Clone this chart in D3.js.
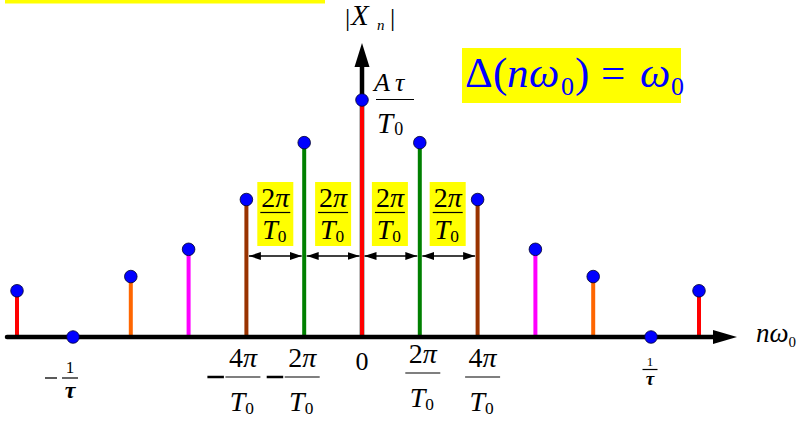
<!DOCTYPE html>
<html>
<head>
<meta charset="utf-8">
<script src="https://cdn.jsdelivr.net/npm/d3@7"></script>
<style>
  html, body { margin: 0; padding: 0; background: #fff; }
  svg { display: block; }
</style>
</head>
<body>
<svg id="chart" width="798" height="426" font-family="'Liberation Serif', 'Times New Roman', serif"></svg>
<script>
// Harmonic index n and normalised line-spectrum magnitude |X_n| (peak = Aτ/T0)
const harmonics  = [-6, -5, -4, -3, -2, -1, 0, 1, 2, 3, 4, 5, 6];
const magnitudes = [0.195, 0, 0.255, 0.37, 0.58, 0.82, 1, 0.82, 0.58, 0.37, 0.255, 0, 0.195];

// Tick labels on the nω0 axis
const tickHarmonics = [-5, -2, -1, 0, 1, 2, 5];
const tickSigns     = ["−", "−", "−", "", "", "", ""];
const tickNumers    = ["1", "4π", "2π", "0", "2π", "4π", "1"];
const tickDenoms    = ["τ", "T0", "T0", "", "T0", "T0", "τ"];

// Spacing annotations between neighbouring lines (from n to n+1)
const spacingStarts = [-2, -1, 0, 1];

// Stem colour by |n|
const stemColor = { 0: "#ff0000", 1: "#008000", 2: "#993300", 3: "#ff00ff", 4: "#ff6600", 5: "#ff0000", 6: "#ff0000" };

const SERIF = "'Liberation Serif', 'Times New Roman', serif";
const svg = d3.select("#chart");
// Outer harmonics sit a little closer to their neighbours than the inner ones
const x = d3.scaleLinear().domain([-6, -5, 5, 6]).range([17, 73, 651, 699]);
const y = d3.scaleLinear().domain([0, 1]).range([337, 100]);
const baseY = y(0);
const x0 = x(0);

const data = harmonics.map((n, i) => ({ n, v: magnitudes[i] }));

function txt(sel) {
  return sel.append("text").attr("font-family", SERIF);
}

// Yellow strip at the top-left
svg.append("rect").attr("x", 5).attr("y", 0).attr("width", 320).attr("height", 3.5).attr("fill", "#ffff00");

// Vertical axis with arrow
svg.append("line")
  .attr("x1", x0).attr("x2", x0).attr("y1", baseY).attr("y2", 65)
  .attr("stroke", "#000").attr("stroke-width", 4.5);
svg.append("path")
  .attr("d", `M${x0},43 L${x0 - 7.5},67 L${x0 + 7.5},67 Z`)
  .attr("fill", "#000");

// Stems
svg.append("g").selectAll("line")
  .data(data.filter(d => d.v > 0))
  .join("line")
  .attr("x1", d => x(d.n)).attr("x2", d => x(d.n))
  .attr("y1", baseY - 2).attr("y2", d => y(d.v))
  .attr("stroke", d => stemColor[Math.abs(d.n)])
  .attr("stroke-width", 4)
  .attr("stroke-linecap", "round");

// Horizontal axis with arrow
svg.append("line")
  .attr("x1", 7).attr("x2", 716).attr("y1", baseY).attr("y2", baseY)
  .attr("stroke", "#000").attr("stroke-width", 4.5).attr("stroke-linecap", "round");
svg.append("path")
  .attr("d", `M737,${baseY} L713,${baseY - 7} L713,${baseY + 7} Z`)
  .attr("fill", "#000");

// Stem heads
svg.append("g").selectAll("circle")
  .data(data)
  .join("circle")
  .attr("cx", d => x(d.n)).attr("cy", d => y(d.v))
  .attr("r", 6.3)
  .attr("fill", "#0000ff")
  .attr("stroke", "#00002a").attr("stroke-width", 0.8);

// Arrowhead markers for spacing annotations
const defs = svg.append("defs");
defs.append("marker").attr("id", "arrEnd")
  .attr("viewBox", "0 0 12 8").attr("refX", 12).attr("refY", 4)
  .attr("markerWidth", 12).attr("markerHeight", 8).attr("markerUnits", "userSpaceOnUse")
  .attr("orient", "auto")
  .append("path").attr("d", "M0,0 L12,4 L0,8 Z").attr("fill", "#000");
defs.append("marker").attr("id", "arrStart")
  .attr("viewBox", "0 0 12 8").attr("refX", 0).attr("refY", 4)
  .attr("markerWidth", 12).attr("markerHeight", 8).attr("markerUnits", "userSpaceOnUse")
  .attr("orient", "auto")
  .append("path").attr("d", "M12,0 L0,4 L12,8 Z").attr("fill", "#000");

// Helper: stacked fraction centred at cx
function fraction(g, cx, num, den, opts) {
  const { numY, lineY, denY, size, half, denSize } = opts;
  if (num === "1") {
    txt(g).attr("x", cx).attr("y", numY).attr("text-anchor", "middle")
      .attr("font-size", size).text("1");
  } else {
    const t = txt(g).attr("x", cx).attr("y", numY).attr("text-anchor", "middle").attr("font-size", size);
    t.append("tspan").text(num[0]);
    t.append("tspan").attr("font-style", "italic").text(num.slice(1));
  }
  g.append("line").attr("x1", cx - half).attr("x2", cx + half).attr("y1", lineY).attr("y2", lineY)
    .attr("stroke", "#000").attr("stroke-width", 1.2);
  if (den === "τ") {
    txt(g).attr("x", cx).attr("y", denY).attr("text-anchor", "middle")
      .attr("font-size", denSize || size).attr("font-style", "italic").attr("font-weight", "bold").text("τ");
  } else {
    const t = txt(g).attr("x", cx - 1).attr("y", denY).attr("text-anchor", "middle");
    t.append("tspan").attr("font-style", "italic").attr("font-size", size).text("T");
    t.append("tspan").attr("font-size", size * 0.62).attr("dy", size * 0.1).text("0");
  }
}

// Spacing annotations: yellow 2π/T0 boxes and double arrows
const spacing = svg.append("g");
spacingStarts.forEach(n => {
  const xa = x(n), xb = x(n + 1), cx = (xa + xb) / 2 + (n < 0 ? 0 : -1);
  spacing.append("rect").attr("x", cx - 18).attr("y", 182).attr("width", 36).attr("height", 64).attr("fill", "#ffff00");
  fraction(spacing, cx, "2π", "T0", { numY: 207, lineY: 212.5, denY: 239, size: 28, half: 15 });
  spacing.append("line")
    .attr("x1", xa + 2.5).attr("x2", xb - 2.5).attr("y1", 256).attr("y2", 256)
    .attr("stroke", "#000").attr("stroke-width", 1.5)
    .attr("marker-start", "url(#arrStart)").attr("marker-end", "url(#arrEnd)");
});

// Tick labels below the axis
const ticks = svg.append("g");
tickHarmonics.forEach((n, i) => {
  const cx = x(n);
  const sign = tickSigns[i], num = tickNumers[i], den = tickDenoms[i];
  if (den === "") {
    txt(ticks).attr("x", cx).attr("y", 370).attr("text-anchor", "middle").attr("font-size", 26).text(num);
    return;
  }
  if (den === "τ") {
    if (n < 0) {
      const fx = cx - 3;
      fraction(ticks, fx, num, den, { numY: 373, lineY: 378, denY: 398, size: 17, denSize: 24, half: 8 });
      ticks.append("line").attr("x1", fx - 25).attr("x2", fx - 13).attr("y1", 378).attr("y2", 378)
        .attr("stroke", "#000").attr("stroke-width", 1.3);
    } else {
      fraction(ticks, cx - 1, num, den, { numY: 366, lineY: 369.5, denY: 385, size: 13, denSize: 19, half: 7.5 });
    }
    return;
  }
  const up = n === 1 ? -4 : 0;
  const fx = n < 0 ? cx - 2 + (n === -2 ? -1.5 : 0) : cx + 3 + (n === 2 ? 2 : 0);
  fraction(ticks, fx, num, den, { numY: 367 + up, lineY: 377 + up, denY: 411 + up, size: 28, half: 17.5 });
  if (sign) {
    ticks.append("line").attr("x1", fx - 35.5).attr("x2", fx - 19).attr("y1", 377).attr("y2", 377)
      .attr("stroke", "#000").attr("stroke-width", 2.5);
  }
});

// Vertical axis title |X_n|
const yTitle = svg.append("g");
txt(yTitle).attr("x", 345).attr("y", 26).attr("font-size", 26).text("|");
txt(yTitle).attr("x", 351).attr("y", 25).attr("font-size", 29).attr("font-style", "italic").text("X");
txt(yTitle).attr("x", 377).attr("y", 30).attr("font-size", 15).attr("font-style", "italic").text("n");
txt(yTitle).attr("x", 390).attr("y", 26).attr("font-size", 26).text("|");

// Horizontal axis title nω0
const xTitle = txt(svg).attr("x", 756).attr("y", 342).attr("font-size", 27).attr("fill", "#000");
xTitle.append("tspan").attr("font-style", "italic").text("nω");
xTitle.append("tspan").attr("font-size", 15).attr("dy", 5).text("0");

// Peak value label Aτ/T0
const peak = svg.append("g");
const at = txt(peak).attr("x", 374).attr("y", 91).attr("font-size", 26).attr("font-style", "italic");
at.append("tspan").text("A");
at.append("tspan").attr("dx", 5).text("τ");
peak.append("line").attr("x1", 376).attr("x2", 414).attr("y1", 99.5).attr("y2", 99.5).attr("stroke", "#000").attr("stroke-width", 1.2);
const tz = txt(peak).attr("x", 377).attr("y", 133);
tz.append("tspan").attr("font-style", "italic").attr("font-size", 29).text("T");
tz.append("tspan").attr("font-size", 18).attr("dx", 1).attr("dy", 2).text("0");

// Spacing note Δ(nω0) = ω0
svg.append("rect").attr("x", 462).attr("y", 48).attr("width", 219).attr("height", 55).attr("fill", "#ffff00");
const note = svg.append("g").attr("fill", "#0000ff");
const glyphs = [
  { t: "Δ", x: 465, s: 43, i: false, b: 87 },
  { t: "(", x: 493, s: 43, i: false, b: 87 },
  { t: "n", x: 507, s: 43, i: true, b: 87 },
  { t: "ω", x: 529, s: 43, i: true, b: 87 },
  { t: "0", x: 561, s: 26, i: false, b: 95 },
  { t: ")", x: 575, s: 43, i: false, b: 87 },
  { t: "=", x: 601, s: 43, i: false, b: 87 },
  { t: "ω", x: 640, s: 43, i: true, b: 87 },
  { t: "0", x: 671, s: 26, i: false, b: 95 }
];
glyphs.forEach(g => {
  txt(note).attr("x", g.x).attr("y", g.b).attr("font-size", g.s)
    .attr("font-style", g.i ? "italic" : "normal").text(g.t);
});
</script>
</body>
</html>
